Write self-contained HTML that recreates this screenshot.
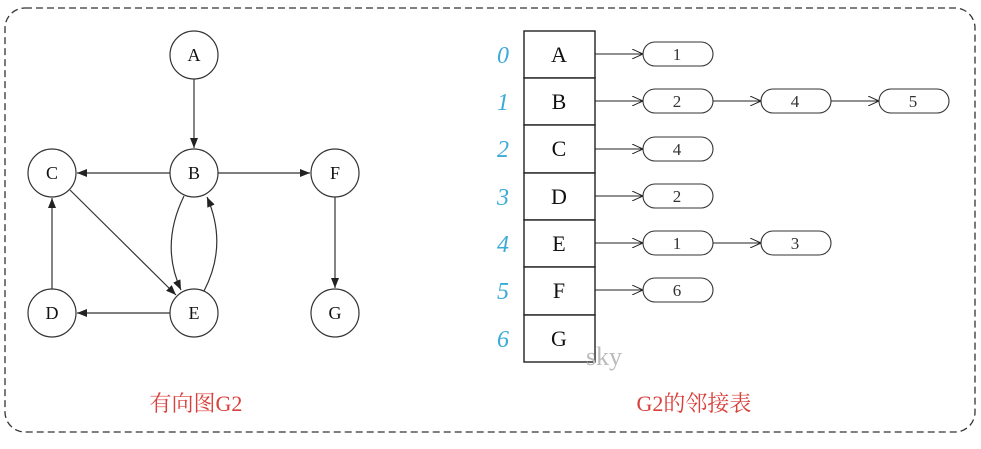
<!DOCTYPE html>
<html><head><meta charset="utf-8"><style>
body{margin:0;background:#fff;width:981px;height:444px;overflow:hidden}
svg text{font-family:"Liberation Serif","Noto Serif CJK SC",serif}
</style></head><body>
<svg width="981" height="444" viewBox="0 0 981 444" xmlns="http://www.w3.org/2000/svg">
<defs>
<marker id="ah" markerWidth="10" markerHeight="8" refX="10" refY="4" orient="auto" markerUnits="userSpaceOnUse"><path d="M0,0 L10,4 L0,8 Z" fill="#222"/></marker>
<marker id="oa" markerWidth="12" markerHeight="10" refX="11" refY="5" orient="auto" markerUnits="userSpaceOnUse"><path d="M0,0 L11,5 L0,10" fill="none" stroke="#222" stroke-width="1"/></marker>
</defs>
<rect x="5" y="8" width="970" height="424" rx="20" fill="none" stroke="#333" stroke-width="1.3" stroke-dasharray="7,4"/>
<g stroke="#333" stroke-width="1.2" fill="none">
<line x1="194" y1="79" x2="194" y2="148" marker-end="url(#ah)"/>
<line x1="170" y1="173" x2="77" y2="173" marker-end="url(#ah)"/>
<line x1="218" y1="173" x2="310" y2="173" marker-end="url(#ah)"/>
<line x1="335" y1="197" x2="335" y2="288" marker-end="url(#ah)"/>
<line x1="52" y1="289" x2="52" y2="198" marker-end="url(#ah)"/>
<line x1="170" y1="313" x2="77" y2="313" marker-end="url(#ah)"/>
<line x1="70" y1="190" x2="176" y2="295" marker-end="url(#ah)"/>
<path d="M184,196 Q160,245 181,290" marker-end="url(#ah)"/>
<path d="M204,291 Q228,245 207,197" marker-end="url(#ah)"/>
</g>
<g fill="#fff" stroke="#333" stroke-width="1.2">
<circle cx="194" cy="55" r="24"/><circle cx="194" cy="173" r="24"/><circle cx="52" cy="173" r="24"/><circle cx="335" cy="173" r="24"/>
<circle cx="52" cy="313" r="24"/><circle cx="194" cy="313" r="24"/><circle cx="335" cy="313" r="24"/>
</g>
<g font-size="18" text-anchor="middle" fill="#111">
<text x="194" y="61">A</text><text x="194" y="179">B</text><text x="52" y="179">C</text><text x="335" y="179">F</text>
<text x="52" y="319">D</text><text x="194" y="319">E</text><text x="335" y="319">G</text>
</g>
<g stroke="#222" stroke-width="1.4" fill="#fff">
<rect x="524" y="31" width="71" height="47"/><rect x="524" y="78" width="71" height="47"/><rect x="524" y="125" width="71" height="48"/>
<rect x="524" y="173" width="71" height="47"/><rect x="524" y="220" width="71" height="47"/><rect x="524" y="267" width="71" height="48"/><rect x="524" y="315" width="71" height="47"/>
</g>
<g font-size="22" text-anchor="middle" fill="#111">
<text x="559" y="62">A</text><text x="559" y="109">B</text><text x="559" y="156">C</text><text x="559" y="204">D</text><text x="559" y="251">E</text><text x="559" y="298">F</text><text x="559" y="346">G</text>
</g>
<g font-size="24" font-style="italic" text-anchor="middle" fill="#3aaad8">
<text x="503" y="63">0</text><text x="503" y="110">1</text><text x="503" y="157">2</text><text x="503" y="205">3</text><text x="503" y="252">4</text><text x="503" y="299">5</text><text x="503" y="347">6</text>
</g>
<g stroke="#222" stroke-width="1" fill="none">
<line x1="595" y1="54" x2="643" y2="54" marker-end="url(#oa)"/>
<line x1="595" y1="101" x2="643" y2="101" marker-end="url(#oa)"/>
<line x1="713" y1="101" x2="761" y2="101" marker-end="url(#oa)"/>
<line x1="831" y1="101" x2="879" y2="101" marker-end="url(#oa)"/>
<line x1="595" y1="149" x2="643" y2="149" marker-end="url(#oa)"/>
<line x1="595" y1="196" x2="643" y2="196" marker-end="url(#oa)"/>
<line x1="595" y1="243" x2="643" y2="243" marker-end="url(#oa)"/>
<line x1="713" y1="243" x2="761" y2="243" marker-end="url(#oa)"/>
<line x1="595" y1="290" x2="643" y2="290" marker-end="url(#oa)"/>
</g>
<g stroke="#333" stroke-width="1.1" fill="#fff">
<rect x="643" y="42" width="70" height="24" rx="12"/>
<rect x="643" y="89" width="70" height="24" rx="12"/><rect x="761" y="89" width="70" height="24" rx="12"/><rect x="879" y="89" width="70" height="24" rx="12"/>
<rect x="643" y="137" width="70" height="24" rx="12"/><rect x="643" y="184" width="70" height="24" rx="12"/>
<rect x="643" y="231" width="70" height="24" rx="12"/><rect x="761" y="231" width="70" height="24" rx="12"/>
<rect x="643" y="278" width="70" height="24" rx="12"/>
</g>
<g font-size="17" text-anchor="middle" fill="#333">
<text x="677" y="60">1</text><text x="677" y="107">2</text><text x="795" y="107">4</text><text x="913" y="107">5</text>
<text x="677" y="155">4</text><text x="677" y="202">2</text><text x="677" y="249">1</text><text x="795" y="249">3</text><text x="677" y="296">6</text>
</g>
<text x="604" y="365" font-size="26" fill="#bbb" text-anchor="middle">sky</text>
<text x="196" y="411" font-size="22" fill="#d8403c" text-anchor="middle">有向图G2</text>
<text x="694" y="411" font-size="22" fill="#d8403c" text-anchor="middle">G2的邻接表</text>
</svg>
</body></html>
